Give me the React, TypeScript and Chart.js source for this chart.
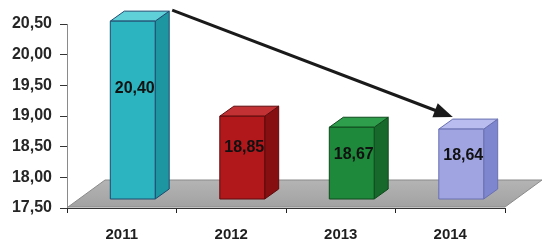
import React, { useEffect, useRef } from 'react';
import { Chart, registerables } from 'chart.js';

Chart.register(...registerables);

const categories = ['2011', '2012', '2013', '2014'];
const values = [20.4, 18.85, 18.67, 18.64];
const yMin = 17.5;
const yMax = 20.5;
const yStep = 0.5;
const frontColors = ['#2cb5c0', '#b0181c', '#1e893a', '#a0a5e2'];
const sideColors = ['#1e96a2', '#860f12', '#16692b', '#7f86d0'];
const topColors = ['#5fcfd8', '#c23234', '#2f9e4c', '#b8bcee'];
const edgeColors = ['#1d4a6e', '#5e0a0c', '#0f4a1d', '#6a70b0'];

const fmt = (v: number) => v.toFixed(2).replace('.', ',');

const FONT = '"Liberation Sans", Arial, sans-serif';

const box3d = {
  id: 'box3d',
  afterDatasetsDraw(chart: any) {
    const ctx = chart.ctx as CanvasRenderingContext2D;
    const area = chart.chartArea;
    const fdx = 37;
    const fdy = 27;
    const fb = area.bottom - 1;
    ctx.save();
    // floor
    const g = ctx.createLinearGradient(0, fb - fdy, 0, fb);
    g.addColorStop(0, '#b4b4b4');
    g.addColorStop(1, '#a2a2a2');
    ctx.beginPath();
    ctx.moveTo(area.left + 1, fb);
    ctx.lineTo(area.right, fb);
    ctx.lineTo(area.right + fdx, fb - fdy);
    ctx.lineTo(area.left + 1 + fdx, fb - fdy);
    ctx.closePath();
    ctx.fillStyle = g;
    ctx.fill();
    ctx.strokeStyle = '#8a8a8a';
    ctx.lineWidth = 1;
    ctx.stroke();

    const meta = chart.getDatasetMeta(0);
    const sx = 11;
    const sy = -9;
    const dx = 14;
    const dy = 10;
    meta.data.forEach((bar: any, i: number) => {
      const { x, y, width } = bar.getProps(['x', 'y', 'width'], true);
      const l = x - width / 2 + sx;
      const r = x + width / 2 + sx;
      const t = y + sy;
      const b = area.bottom + sy;
      ctx.lineWidth = 1;
      ctx.strokeStyle = edgeColors[i];
      // side
      ctx.beginPath();
      ctx.moveTo(r, b);
      ctx.lineTo(r, t);
      ctx.lineTo(r + dx, t - dy);
      ctx.lineTo(r + dx, b - dy);
      ctx.closePath();
      ctx.fillStyle = sideColors[i];
      ctx.fill();
      ctx.stroke();
      // top
      ctx.beginPath();
      ctx.moveTo(l, t);
      ctx.lineTo(r, t);
      ctx.lineTo(r + dx, t - dy);
      ctx.lineTo(l + dx, t - dy);
      ctx.closePath();
      ctx.fillStyle = topColors[i];
      ctx.fill();
      ctx.stroke();
      // front
      ctx.beginPath();
      ctx.rect(l, t, r - l, b - t);
      ctx.fillStyle = frontColors[i];
      ctx.fill();
      ctx.stroke();
      // value label
      ctx.fillStyle = '#111';
      ctx.font = `bold 16px ${FONT}`;
      ctx.textAlign = 'center';
      ctx.textBaseline = 'middle';
      ctx.fillText(fmt(values[i]), (l + r) / 2 + 2, t + 0.38 * (b - t));
    });

    // arrow from first bar to last bar
    const p0 = meta.data[0].getProps(['x', 'y', 'width'], true);
    const p3 = meta.data[meta.data.length - 1].getProps(['x', 'y', 'width'], true);
    const x0 = p0.x + p0.width / 2 + sx + dx + 3;
    const y0 = p0.y + sy - dy - 1;
    const x1 = p3.x - p3.width / 2 + sx + dx;
    const y1 = p3.y + sy - dy - 2;
    const ang = Math.atan2(y1 - y0, x1 - x0);
    const hl = 19;
    const hw = 7.5;
    const bx = x1 - hl * Math.cos(ang);
    const by = y1 - hl * Math.sin(ang);
    ctx.strokeStyle = '#1a1a1a';
    ctx.lineWidth = 3;
    ctx.beginPath();
    ctx.moveTo(x0, y0);
    ctx.lineTo(bx + 2 * Math.cos(ang), by + 2 * Math.sin(ang));
    ctx.stroke();
    ctx.fillStyle = '#1a1a1a';
    ctx.beginPath();
    ctx.moveTo(x1, y1);
    ctx.lineTo(bx + hw * Math.sin(ang), by - hw * Math.cos(ang));
    ctx.lineTo(bx - hw * Math.sin(ang), by + hw * Math.cos(ang));
    ctx.closePath();
    ctx.fill();
    ctx.restore();
  },
};

export default function App() {
  const ref = useRef<HTMLCanvasElement | null>(null);
  useEffect(() => {
    if (!ref.current) return;
    const chart = new Chart(ref.current, {
      type: 'bar',
      data: {
        labels: categories,
        datasets: [
          {
            data: values,
            backgroundColor: 'rgba(0,0,0,0)',
            borderWidth: 0,
            categoryPercentage: 1,
            barPercentage: 0.41,
          },
        ],
      },
      options: {
        responsive: false,
        animation: false,
        events: [],
        layout: { padding: { left: 0, right: 38, top: 24, bottom: 0 } },
        plugins: {
          legend: { display: false },
          tooltip: { enabled: false },
        },
        scales: {
          y: {
            min: yMin,
            max: yMax,
            afterFit: (s: any) => {
              s.width = 67;
            },
            ticks: {
              stepSize: yStep,
              callback: (v: any) => fmt(Number(v)),
              color: '#262626',
              font: { family: FONT, size: 16, weight: 'bold' },
              padding: 8,
            },
            grid: {
              drawOnChartArea: false,
              drawTicks: true,
              tickLength: 7,
              color: '#333',
            },
            border: { display: true, color: '#8a8a8a', width: 1 },
          },
          x: {
            afterFit: (s: any) => {
              s.height = 32;
            },
            ticks: {
              color: '#1e1e1e',
              font: { family: FONT, size: 15, weight: 'bold' },
              padding: 13,
            },
            grid: {
              offset: true,
              drawOnChartArea: false,
              drawTicks: true,
              tickLength: 5,
              color: '#222',
            },
            border: { display: true, color: '#333', width: 1 },
          },
        },
      },
      plugins: [box3d],
    });
    return () => chart.destroy();
  }, []);
  return (
    <div style={{ position: 'fixed', left: 0, top: 0, width: 543, height: 240, background: '#fff' }}>
      <canvas ref={ref} width={543} height={240} style={{ width: 543, height: 240, display: 'block' }} />
    </div>
  );
}
